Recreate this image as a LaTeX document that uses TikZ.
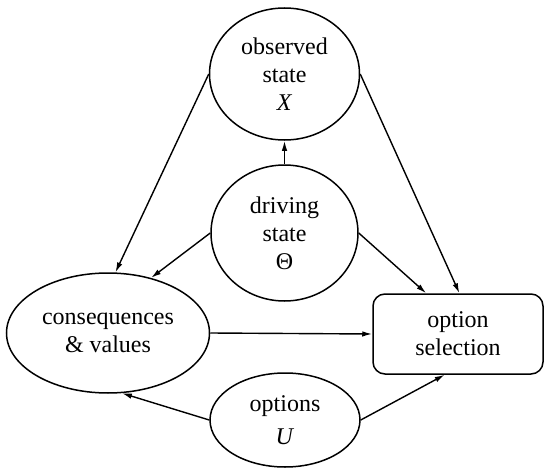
\documentclass[tikz,border=0pt]{standalone}
\usepackage{fontspec}
\setmainfont{Liberation Serif}
\usetikzlibrary{arrows.meta,shapes.geometric}
\tikzset{
  every node/.style={font=\fontsize{24}{28}\selectfont, align=center, inner sep=0pt},
  ell/.style={draw, ellipse, line width=1.5pt},
  selbox/.style={draw, rectangle, rounded corners=12pt, line width=1.5pt},
  arr/.style={line width=1.4pt, -{Latex[length=10pt,width=5.5pt]}}
}
\begin{document}
\begin{tikzpicture}[x=1pt,y=-1pt]
\useasboundingbox (0,0) rectangle (544,471);
\node[ell, minimum width=150pt, minimum height=132pt] (obs) at (284.5,74) {observed\\state\\\textit{X}};
\node[ell, minimum width=147pt, minimum height=136pt] (drv) at (284.5,233) {driving\\state\\Θ};
\node[ell, minimum width=203pt, minimum height=120pt] (cons) at (108,333) {consequences\\\& values};
\node[ell, minimum width=150pt, minimum height=94pt] (opts) at (285,420) {options\\[5pt]\textit{U}};
\node[selbox, minimum width=170pt, minimum height=80pt] (sel) at (458,334) {option\\selection};
\draw[arr] (obs.west) -- (cons.83);
\draw[arr] (drv.west) -- (cons.52);
\draw[arr] (drv.north) -- (obs.south);
\draw[arr] (drv.east) -- (sel.128);
\draw[arr] (obs.east) -- (sel.88);
\draw[arr] (cons.east) -- (sel.west);
\draw[arr] (opts.west) -- (cons.-77);
\draw[arr] (opts.east) -- (sel.-108);
\end{tikzpicture}
\end{document}
